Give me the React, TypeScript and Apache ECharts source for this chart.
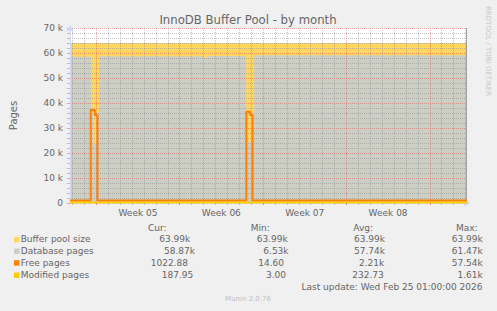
import React, { useEffect, useRef } from 'react';
import * as echarts from 'echarts';

// ---- data ----
const chartTitle = 'InnoDB Buffer Pool - by month';
const yAxisName = 'Pages';
// x values are days, 0 = start of Week 05
const xMin = -2.2083;
const xMax = 31.125;
const weekLabels = ['Week 05', 'Week 06', 'Week 07', 'Week 08'];
const weekLabelDays = [3.5, 10.5, 17.5, 24.5];
const weekStartDays = [0, 7, 14, 21, 28];

const poolSize: [number, number][] = [
  [-2.2083, 63990],
  [31.125, 63990],
];
const databasePages: [number, number][] = [
  [-2.2083, 58500],
  [-0.44, 36000],
  [-0.25, 23500],
  [0.03, 36000],
  [0.23, 58700],
  [9.06, 58100],
  [9.33, 58800],
  [12.58, 36000],
  [12.69, 24500],
  [13.06, 36000],
  [13.25, 59100],
  [31.125, 59100],
];
const freePages: [number, number][] = [
  [-2.2083, 1000],
  [-0.47, 37200],
  [-0.12, 35200],
  [0.1, 1000],
  [12.6, 36500],
  [12.92, 35200],
  [13.12, 1000],
  [31.125, 1023],
];
const modifiedPages: [number, number][] = [
  [-2.2083, 200],
  [31.125, 188],
];

const seriesNames = ['Buffer pool size', 'Database pages', 'Free pages', 'Modified pages'];
const seriesColors = ['#FFD660', '#CDCFC4', '#FF7F00', '#FFCC00'];
const curValues = ['63.99k', '58.87k', '1022.88', '187.95'];
const minValues = ['63.99k', '6.53k', '14.60', '3.00'];
const avgValues = ['63.99k', '57.74k', '2.21k', '232.73'];
const maxValues = ['63.99k', '61.47k', '57.54k', '1.61k'];
const columnHeaders = ['Cur:', 'Min:', 'Avg:', 'Max:'];
const lastUpdate = 'Last update: Wed Feb 25 01:00:00 2026';
const rrdWatermark = 'RRDTOOL / TOBI OETIKER';
const muninWatermark = 'Munin 2.0.76';

// ---- layout / style ----
const FONT = '"DejaVu Sans", sans-serif';
const TXT = '#666666';
const GRID_C = 'rgba(143,143,143,0.55)';
const MGRID_C = 'rgba(222,79,79,0.5)';
const AXIS_C = '#CFD6F8';
const rightBorderDay = 31.083;

const headerX = [148, 250.7, 353.3, 456];
const curX = [159.3, 164, 150.7, 161.7];
const minX = [256.7, 263.3, 258.3, 266];
const avgX = [354, 354, 359, 352.3];
const maxRight = 482.7;
const headerY = 227.7;
const rowY = [239.3, 251, 262.7, 275];

function txt(text: string, x: number, y: number, opts: any = {}) {
  const align = opts.align || 'left';
  return {
    type: 'text',
    x,
    y,
    rotation: opts.rotation || 0,
    silent: true,
    style: {
      text,
      fill: opts.fill || TXT,
      font: `${opts.size || 9}px ${FONT}`,
      align,
      textAlign: align,
      verticalAlign: 'middle',
      textVerticalAlign: 'middle',
    },
  };
}

export default function App() {
  const ref = useRef<HTMLDivElement>(null);
  useEffect(() => {
    document.body.style.margin = '0';
    document.body.style.background = '#F0F0F0';
    const chart = echarts.init(ref.current!, undefined, { renderer: 'svg' });

    const dayGrid: any[] = [];
    for (let d = -2; d <= 31; d++) {
      if (weekStartDays.indexOf(d) >= 0) continue;
      dayGrid.push({ xAxis: d, lineStyle: { color: GRID_C, type: [1, 1], width: 1 } });
    }
    const weekGrid = weekStartDays.map((d) => ({
      xAxis: d,
      lineStyle: { color: MGRID_C, type: [1, 1], width: 1 },
    }));
    const dayTicks: number[] = [];
    for (let d = -2; d <= 31; d++) dayTicks.push(d);

    const graphics: any[] = [];
    graphics.push(txt(chartTitle, 248, 20, { align: 'center', size: 11.7 }));
    graphics.push(txt(rrdWatermark, 488, 51, { align: 'center', size: 7, fill: '#C8C8C8', rotation: -Math.PI / 2 }));
    columnHeaders.forEach((h, i) => graphics.push(txt(h, headerX[i], headerY)));
    seriesNames.forEach((name, i) => {
      const y = rowY[i];
      graphics.push({
        type: 'rect',
        silent: true,
        shape: { x: 14, y: y - 2.5, width: 5.5, height: 5.5 },
        style: { fill: seriesColors[i] },
      });
      graphics.push(txt(name, 20.7, y));
      graphics.push(txt(curValues[i], curX[i], y));
      graphics.push(txt(minValues[i], minX[i], y));
      graphics.push(txt(avgValues[i], avgX[i], y));
      graphics.push(txt(maxValues[i], maxRight, y, { align: 'right' }));
    });
    graphics.push(txt(lastUpdate, 482.5, 287.3, { align: 'right' }));
    graphics.push(txt(muninWatermark, 248, 298.7, { align: 'center', size: 7, fill: '#C0C0C0' }));

    const areaCommon = {
      type: 'line',
      step: 'end',
      showSymbol: false,
      symbol: 'none',
      lineStyle: { width: 0 },
      silent: true,
    };

    chart.setOption({
      animation: false,
      backgroundColor: '#F0F0F0',
      textStyle: { fontFamily: FONT },
      grid: { left: 67, right: 30, top: 28, bottom: 108, show: true, backgroundColor: '#FFFFFF', borderWidth: 0 },
      xAxis: [
        {
          type: 'value',
          min: xMin,
          max: xMax,
          z: 3,
          axisLine: { show: true, onZero: false, lineStyle: { color: AXIS_C, width: 1 }, symbol: ['none', 'arrow'], symbolSize: [6, 7], symbolOffset: [0, 3] },
          axisTick: { show: true, customValues: dayTicks, length: 2, lineStyle: { color: GRID_C } },
          axisLabel: {
            customValues: weekLabelDays,
            formatter: (v: number) => weekLabels[weekLabelDays.indexOf(v)] || '',
            color: TXT,
            fontSize: 9,
            fontFamily: FONT,
            margin: 5,
          },
          splitLine: { show: false },
        },
        {
          type: 'value',
          min: xMin,
          max: xMax,
          position: 'bottom',
          z: 3,
          axisLine: { show: false, onZero: false },
          axisTick: { show: true, customValues: weekStartDays, length: 2, lineStyle: { color: MGRID_C } },
          axisLabel: { show: false },
          splitLine: { show: false },
        },
      ],
      yAxis: {
        type: 'value',
        min: 0,
        max: 70000,
        interval: 10000,
        z: 3,
        name: yAxisName,
        nameLocation: 'middle',
        nameGap: 52,
        nameTextStyle: { color: TXT, fontSize: 10, fontFamily: FONT },
        axisLine: { show: true, onZero: false, lineStyle: { color: AXIS_C, width: 1 }, symbol: ['none', 'arrow'], symbolSize: [6, 7], symbolOffset: [0, 3] },
        axisTick: { show: true, length: 3, lineStyle: { color: MGRID_C } },
        minorTick: { show: true, splitNumber: 5, length: 3, lineStyle: { color: GRID_C } },
        axisLabel: {
          color: TXT,
          fontSize: 9,
          fontFamily: FONT,
          margin: 7,
          formatter: (v: number) => (v === 0 ? '0' : v / 1000 + ' k'),
        },
        splitLine: { show: true, lineStyle: { color: MGRID_C, type: [1, 1], width: 1 } },
        minorSplitLine: { show: true, lineStyle: { color: GRID_C, type: [1, 1], width: 1 } },
      },
      series: [
        {
          ...areaCommon,
          name: seriesNames[0],
          data: poolSize,
          areaStyle: { color: seriesColors[0], opacity: 1 },
          z: 1,
        },
        {
          ...areaCommon,
          name: seriesNames[1],
          data: databasePages,
          areaStyle: { color: seriesColors[1], opacity: 1 },
          z: 2,
          markLine: {
            silent: true,
            z: 4,
            symbol: ['none', 'none'],
            label: { show: false },
            emphasis: { disabled: true },
            animation: false,
            data: [
              ...dayGrid,
              ...weekGrid,
              { xAxis: rightBorderDay, lineStyle: { color: '#A0A0A0', type: 'solid', width: 1 } },
            ],
          },
        },
        {
          type: 'line',
          name: seriesNames[2],
          step: 'end',
          showSymbol: false,
          symbol: 'none',
          silent: true,
          data: freePages,
          lineStyle: { color: seriesColors[2], width: 2 },
          z: 6,
        },
        {
          type: 'line',
          name: seriesNames[3],
          step: 'end',
          showSymbol: false,
          symbol: 'none',
          silent: true,
          data: modifiedPages,
          lineStyle: { color: seriesColors[3], width: 2 },
          z: 7,
        },
      ],
      graphic: graphics,
    });
    return () => chart.dispose();
  }, []);
  return <div ref={ref} style={{ width: 497, height: 311 }} />;
}
